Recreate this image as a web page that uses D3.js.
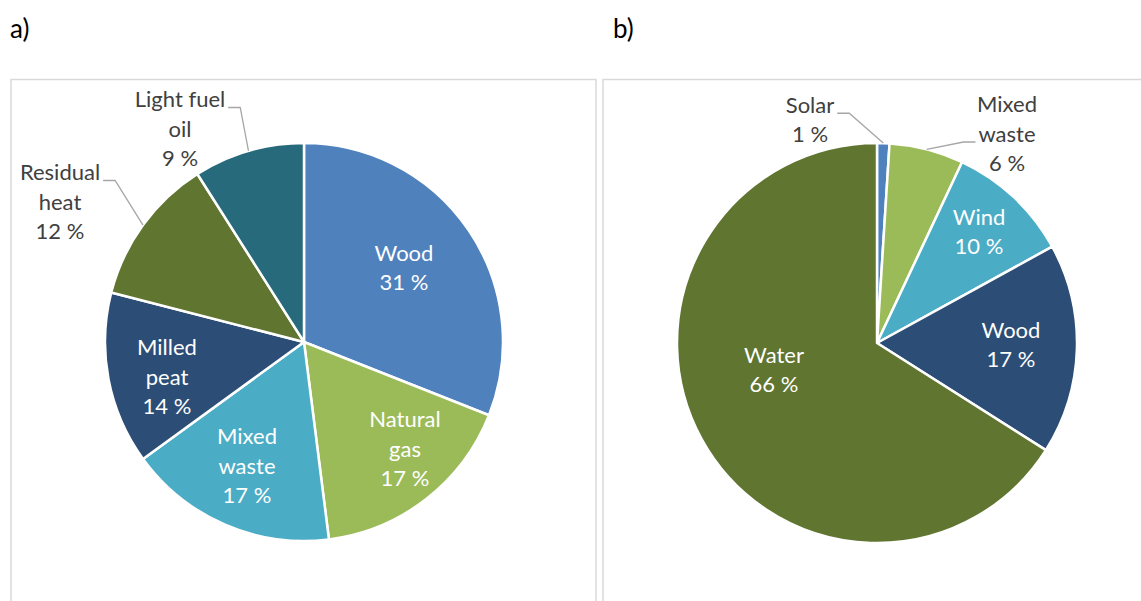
<!DOCTYPE html>
<html><head><meta charset="utf-8">
<script src="https://cdn.jsdelivr.net/npm/d3@7"></script>
<style>
html,body{margin:0;padding:0;background:#fff;}
svg{display:block;font-family:Lato,"Open Sans",sans-serif;}
</style></head>
<body>
<svg id="c" width="1141" height="601"></svg>
<script>
// ---- data ----
const categoriesA = ["Wood", "Natural gas", "Mixed waste", "Milled peat", "Residual heat", "Light fuel oil"];
const valuesA = [31, 17, 17, 14, 12, 9];
const labelsA = ["Wood", "Natural\ngas", "Mixed\nwaste", "Milled\npeat", "Residual\nheat", "Light fuel\noil"];

const categoriesB = ["Solar", "Mixed waste", "Wind", "Wood", "Water"];
const valuesB = [1, 6, 10, 17, 66];
const labelsB = ["Solar", "Mixed\nwaste", "Wind", "Wood", "Water"];

const panelTitles = ["a)", "b)"];

// ---- style / layout ----
const colors = ["#4F81BD", "#9BBB59", "#4BACC6", "#2C4D75", "#5F7530", "#276A7C"];
const svg = d3.select("#c");
const FS = 22, LH = 29.5;

function drawPanel(cfg) {
  svg.append("rect").attr("x", cfg.px).attr("y", 79.5).attr("width", cfg.pw).attr("height", 600)
    .attr("fill", "none").attr("stroke", "#D9D9D9").attr("stroke-width", 1.5);
  svg.append("text").attr("x", cfg.tx).attr("y", 38).attr("font-size", 26).attr("fill", "#000")
    .text(cfg.title);

  const g = svg.append("g").attr("transform", `translate(${cfg.cx},${cfg.cy})`);
  const color = d3.scaleOrdinal().domain(cfg.cats).range(colors);
  const pie = d3.pie().sort(null).value(d => d.v);
  const arcs = pie(cfg.cats.map((c, i) => ({ c, v: cfg.vals[i], label: cfg.labels[i] })));
  const arc = d3.arc().innerRadius(0).outerRadius(cfg.r);

  g.selectAll("path.s").data(arcs).join("path").attr("class", "s")
    .attr("d", arc).attr("fill", d => color(d.data.c))
    .attr("stroke", "#fff").attr("stroke-width", 2.5).attr("stroke-linejoin", "round");

  arcs.forEach(d => {
    const mid = (d.startAngle + d.endAngle) / 2;
    const lines = d.data.label.split("\n").concat([d.data.v + " %"]);
    const pos = cfg.pos[d.data.c];
    const lx = pos.x, ly = pos.y;
    const fill = pos.out ? "#404040" : "#fff";
    const t = g.append("text").attr("text-anchor", "middle").attr("font-size", FS).attr("fill", fill);
    const y0 = ly - (lines.length - 1) * LH / 2;
    lines.forEach((s, i) => {
      t.append("tspan").attr("x", lx).attr("y", y0 + i * LH).attr("dy", "0.35em").text(s);
    });
    if (pos.out) {
      const ax = Math.sin(mid) * cfg.r, ay = -Math.cos(mid) * cfg.r;
      const li = pos.line;
      const w = t.node().childNodes[li].getComputedTextLength();
      const by = y0 + li * LH + 8;
      const side = ax > lx ? 1 : -1;
      const ex = lx + side * (w / 2 + 3);
      const pts = [[ex, by], [ex + side * 12, by], [ax, ay]];
      g.append("path").attr("d", d3.line()(pts)).attr("fill", "none")
        .attr("stroke", "#A6A6A6").attr("stroke-width", 1.3);
    }
  });
}

drawPanel({
  px: 11, pw: 585, tx: 10, title: panelTitles[0],
  cx: 304, cy: 342, r: 199,
  cats: categoriesA, vals: valuesA, labels: labelsA,
  pos: {
    "Wood": { x: 100, y: -74 },
    "Natural gas": { x: 101, y: 107 },
    "Mixed waste": { x: -57, y: 124 },
    "Milled peat": { x: -137, y: 35 },
    "Residual heat": { x: -244, y: -140, out: true, line: 0 },
    "Light fuel oil": { x: -124, y: -213, out: true, line: 0 }
  }
});

drawPanel({
  px: 603, pw: 600, tx: 613, title: panelTitles[1],
  cx: 877, cy: 343, r: 200,
  cats: categoriesB, vals: valuesB, labels: labelsB,
  pos: {
    "Solar": { x: -67, y: -223, out: true, line: 0 },
    "Mixed waste": { x: 130, y: -209, out: true, line: 1 },
    "Wind": { x: 102, y: -111 },
    "Wood": { x: 134, y: 2 },
    "Water": { x: -103, y: 27 }
  }
});
</script>
</body></html>
